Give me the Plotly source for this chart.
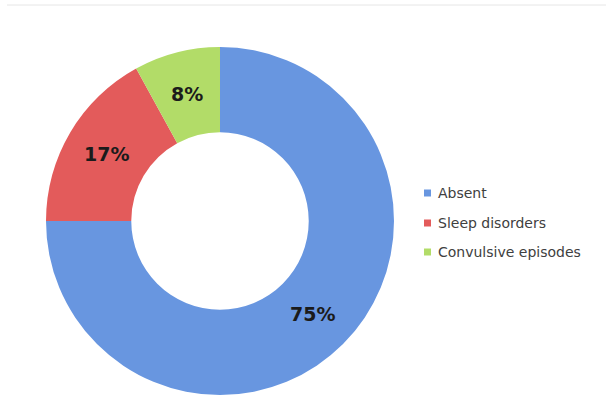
import math
import plotly.graph_objects as go

labels = ["Absent", "Sleep disorders", "Convulsive episodes"]
values = [75, 17, 8]
colors = ["#6896e0", "#e35b5b", "#b2dc68"]

W, H = 606, 396
CX, CY, R_OUT, HOLE = 220, 221, 174, 0.51

fig = go.Figure()
fig.add_trace(go.Pie(
    labels=labels,
    values=values,
    hole=HOLE,
    sort=False,
    direction="clockwise",
    rotation=0,
    marker=dict(colors=colors, line=dict(width=0)),
    textinfo="none",
    domain=dict(x=[(CX - R_OUT) / W, (CX + R_OUT) / W],
                y=[1 - (CY + R_OUT) / H, 1 - (CY - R_OUT) / H]),
    showlegend=False,
    hoverinfo="label+percent",
))

# percentage labels placed at each slice's mid-angle, mid-radius
total = sum(values)
r_mid = R_OUT * (1 + HOLE) / 2
start = 0.0
for v in values:
    theta = math.radians(start + 360.0 * v / total / 2)
    px = CX + r_mid * math.sin(theta)
    py = CY - r_mid * math.cos(theta)
    fig.add_annotation(text=f"{round(100 * v / total)}%", xref="paper", yref="paper",
                       x=px / W, y=1 - py / H, xanchor="center", yanchor="middle",
                       showarrow=False,
                       font=dict(family="DejaVu Sans", size=19, color="#1b1b1b", weight="bold"))
    start += 360.0 * v / total

# custom legend built from the labels / colors arrays
row_y = [193, 223, 252]
for lab, col, yy in zip(labels, colors, row_y):
    fig.add_shape(type="rect", xref="paper", yref="paper",
                  x0=424 / W, x1=431 / W,
                  y0=1 - (yy + 3.5) / H, y1=1 - (yy - 3.5) / H,
                  fillcolor=col, line=dict(width=0))
    fig.add_annotation(text=lab, xref="paper", yref="paper",
                       x=436 / W, y=1 - yy / H, xanchor="left", yanchor="middle",
                       showarrow=False,
                       font=dict(family="DejaVu Sans", size=14, color="#404040"))

# faint frame line at top
fig.add_shape(type="line", xref="paper", yref="paper",
              x0=7 / W, x1=1, y0=1 - 5 / H, y1=1 - 5 / H,
              line=dict(color="#e6e6e6", width=1))

fig.update_layout(
    width=W, height=H,
    margin=dict(l=0, r=0, t=0, b=0, pad=0),
    paper_bgcolor="white",
    plot_bgcolor="white",
)

fig.write_html("out.html", config={"displayModeBar": False})
